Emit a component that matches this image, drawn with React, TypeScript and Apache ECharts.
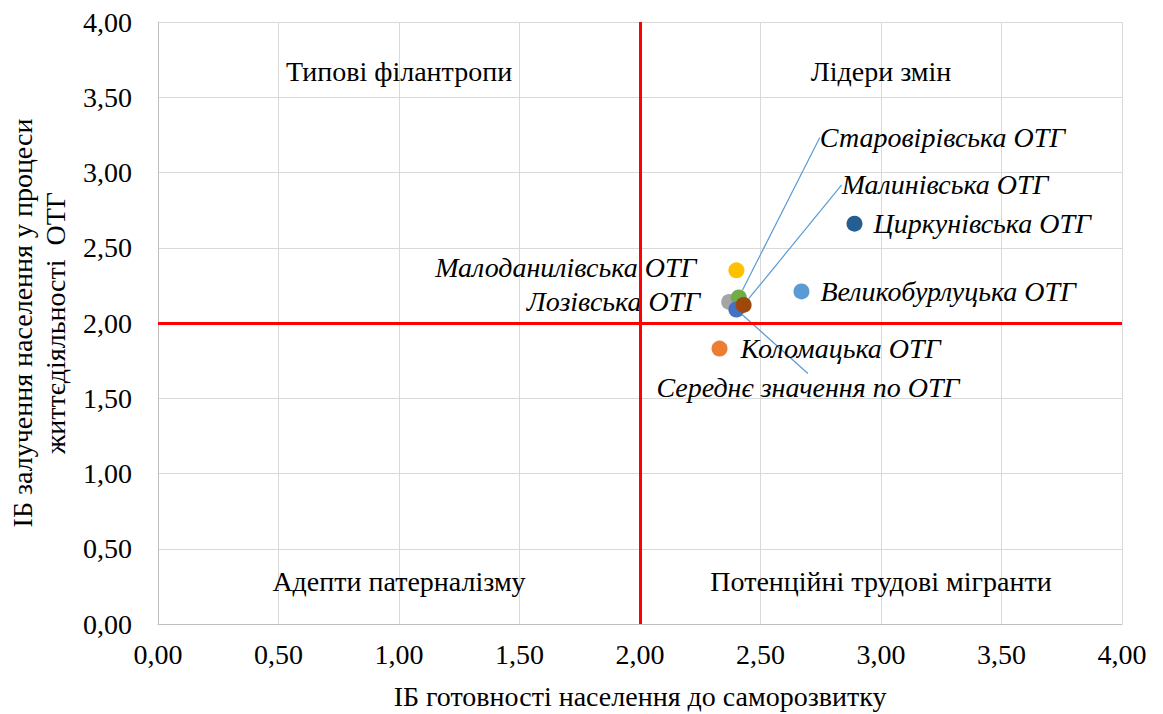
import React, { useEffect, useRef } from "react";
import * as echarts from "echarts";

const pointNames = [
  "Циркунівська ОТГ",
  "Великобурлуцька ОТГ",
  "Малоданилівська ОТГ",
  "Лозівська ОТГ",
  "Старовірівська ОТГ",
  "Середнє значення по ОТГ",
  "Малинівська ОТГ",
  "Коломацька ОТГ",
];
const xValues = [2.89, 2.67, 2.4, 2.37, 2.41, 2.4, 2.43, 2.33];
const yValues = [2.66, 2.21, 2.35, 2.14, 2.17, 2.09, 2.12, 1.83];
const pointColors = ["#255e91", "#5b9bd5", "#ffc000", "#a5a5a5", "#70ad47", "#4472c4", "#9e480e", "#ed7d31"];
// label placement: side, and offsets (labels with leader lines are moved further)
const labelSide = ["right", "right", "left", "left", "right", "right", "right", "right"];
const labelMoveX = [0, 0, -21, -10, 62, -99, 79, 2];
const labelMoveY = [0, 0, -3, 0, -160, 78, -120, 0];
const hasLeader = [false, false, false, false, true, true, true, false];

const quadrantNames = ["Типові філантропи", "Лідери змін", "Адепти патерналізму", "Потенційні трудові мігранти"];
const quadrantX = [1.0, 3.0, 1.0, 3.0];
const quadrantY = [3.67, 3.67, 0.28, 0.28];

const fmt = (v: number) => v.toFixed(2).replace(".", ",");

export default function App() {
  const ref = useRef<HTMLDivElement>(null);
  useEffect(() => {
    const chart = echarts.init(ref.current!, null, { renderer: "svg" });
    const font = "Liberation Serif, Times New Roman, DejaVu Serif, serif";
    const series: any[] = pointNames.map((name, i) => {
      const moved = labelMoveX[i] !== 0 || labelMoveY[i] !== 0;
      return {
        type: "scatter",
        name,
        symbolSize: 16,
        itemStyle: { color: pointColors[i], opacity: 1 },
        data: [{ value: [xValues[i], yValues[i]], name }],
        label: {
          show: true,
          position: labelSide[i],
          distance: 11,
          formatter: "{b}",
          fontFamily: font,
          fontStyle: "italic",
          fontSize: 28,
          color: "#000",
        },
        labelLayout: moved ? { dx: labelMoveX[i], dy: labelMoveY[i] } : undefined,
        labelLine: hasLeader[i]
          ? { show: true, lineStyle: { color: "#5b9bd5", width: 1.2 } }
          : { show: false },
        z: 3,
      };
    });
    series.push({
      type: "scatter",
      name: "quadrants",
      symbolSize: 0,
      silent: true,
      itemStyle: { opacity: 1 },
      data: quadrantNames.map((n, i) => ({ value: [quadrantX[i], quadrantY[i]], name: n })),
      label: {
        show: true,
        position: "inside",
        formatter: "{b}",
        fontFamily: font,
        fontSize: 28,
        color: "#000",
        opacity: 1,
      },
      markLine: {
        silent: true,
        symbol: "none",
        label: { show: false },
        lineStyle: { color: "#ff0000", width: 3, type: "solid", opacity: 1 },
        data: [{ xAxis: 2 }, { yAxis: 2 }],
      },
      z: 2,
    });
    chart.setOption({
      animation: false,
      backgroundColor: "#fff",
      textStyle: { fontFamily: font },
      grid: { left: 150, right: 41, top: 14, bottom: 90, outerBoundsMode: "none", containLabel: false },
      xAxis: {
        type: "value",
        min: 0,
        max: 4,
        interval: 0.5,
        name: "ІБ готовності населення до саморозвитку",
        nameLocation: "middle",
        nameGap: 58,
        nameTextStyle: { fontFamily: font, fontSize: 28, color: "#000" },
        axisLine: { show: true, lineStyle: { color: "#bfbfbf", width: 1 } },
        axisTick: { show: false },
        axisLabel: { formatter: fmt, fontFamily: font, fontSize: 28, color: "#000", margin: 16 },
        splitLine: { show: true, lineStyle: { color: "#d9d9d9", width: 1 } },
      },
      yAxis: {
        type: "value",
        min: 0,
        max: 4,
        interval: 0.5,
        name: "ІБ залучення населення у процеси\nжиттєдіяльності  ОТГ",
        nameLocation: "middle",
        nameGap: 74,
        nameTextStyle: { fontFamily: font, fontSize: 28, color: "#000", lineHeight: 33 },
        axisLine: { show: true, lineStyle: { color: "#bfbfbf", width: 1 } },
        axisTick: { show: false },
        axisLabel: { formatter: fmt, fontFamily: font, fontSize: 28, color: "#000", margin: 26 },
        splitLine: { show: true, lineStyle: { color: "#d9d9d9", width: 1 } },
      },
      series,
    });
    return () => chart.dispose();
  }, []);
  return <div ref={ref} style={{ width: 1155, height: 706 }} />;
}
